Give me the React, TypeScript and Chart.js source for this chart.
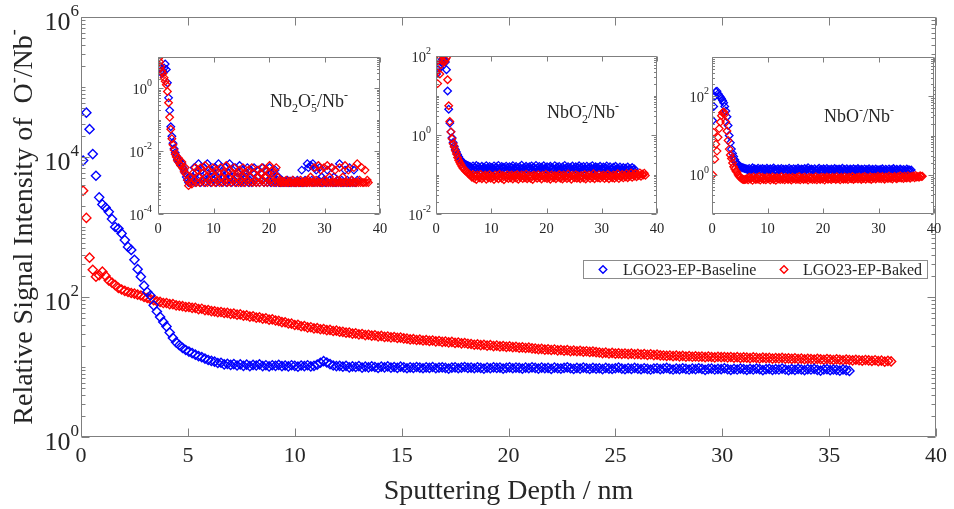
import React, { useEffect, useRef } from 'react';
import { Chart, registerables } from 'chart.js';

Chart.register(...registerables);

const FONT = '"Liberation Serif", "Times New Roman", Times, serif';
const BLUE = '#0000ff';
const RED = '#ff0000';
const AXIS_COLOR = '#7f7f7f';
const TEXT_COLOR = '#262626';

const seriesNames = ['LGO23-EP-Baseline', 'LGO23-EP-Baked'];

// ---------- main panel: O-/Nb- ----------
const mainDepthStart = 0.1;
const mainDepthStep = 0.15;
const mainXTicks = [0, 5, 10, 15, 20, 25, 30, 35, 40];
const mainYExponents = [0, 2, 4, 6];

const mainBaseline = [
  8900, 43000, 25000, 11000, 5400, 2650, 2100, 1900, 1650, 1300, 1000, 950, 810, 650, 520, 470, 340, 250, 195, 145, 118,
  105, 76, 62, 52, 44, 38, 31, 26, 22.5, 20.5, 18.8, 17.5, 16.6, 15.8, 15.0, 14.3, 13.8, 13.2, 12.6, 12.2,
  11.9, 11.4, 11.5, 10.9, 11.1, 10.7, 11.0, 10.5, 10.9, 10.4, 10.8, 10.3, 10.7, 10.5, 10.9, 10.3, 10.6, 10.2, 10.6, 10.4,
  10.7, 10.3, 10.5, 10.2, 10.6, 10.4, 10.1, 10.5, 10.3, 10.6, 10.2, 10.4, 10.8, 11.5, 12.1, 11.6, 11.0, 10.5, 10.3, 10.4,
  10.1, 10.4, 9.9, 10.2, 10.0, 10.3, 9.8, 10.1, 9.9, 10.2, 10.0, 9.7, 10.1, 9.9, 10.2, 9.8, 10.0, 9.7, 10.1, 9.9,
  9.6, 9.9, 9.7, 10.0, 9.8, 9.6, 9.9, 9.7, 10.0, 9.6, 9.8, 9.9, 9.7, 9.5, 9.8, 9.9, 9.6, 9.8, 10.0, 9.7,
  9.8, 9.6, 9.9, 9.7, 9.5, 9.8, 9.6, 9.9, 9.7, 9.8, 9.5, 9.7, 9.9, 9.6, 9.8, 9.7, 9.5, 9.8, 9.6, 9.9,
  9.7, 9.5, 9.8, 9.6, 9.7, 9.4, 9.8, 9.6, 9.5, 9.7, 9.9, 9.6, 9.4, 9.7, 9.5, 9.8, 9.6, 9.4, 9.7, 9.5,
  9.6, 9.3, 9.7, 9.5, 9.4, 9.6, 9.8, 9.5, 9.3, 9.6, 9.4, 9.7, 9.5, 9.3, 9.6, 9.4, 9.2, 9.5, 9.6, 9.3,
  9.5, 9.7, 9.4, 9.2, 9.5, 9.3, 9.6, 9.4, 9.2, 9.5, 9.3, 9.6, 9.4, 9.1, 9.4, 9.5, 9.2, 9.4, 9.3, 9.6,
  9.3, 9.1, 9.4, 9.2, 9.5, 9.3, 9.1, 9.4, 9.2, 9.5, 9.3, 9.0, 9.3, 9.4, 9.1, 9.3, 9.2, 9.5, 9.2, 9.0,
  9.3, 9.1, 9.4, 9.2, 9.0, 9.3, 9.2, 9.4, 9.1, 8.9, 9.2, 9.3, 9.0, 9.2, 9.1, 8.9, 9.2, 9.0, 8.8,
];

const mainBaked = [
  3300, 1350, 365, 245, 195, 205, 230, 200, 172, 160, 148, 135, 128, 122, 118, 114, 112, 108, 105, 100, 97,
  93, 90, 87, 85, 82, 82, 79, 79, 76, 75, 74, 72, 72, 70, 70, 67, 68, 65, 65, 63,
  62.5, 60.8, 61.0, 59.2, 59.4, 57.5, 58.0, 56.0, 56.3, 54.2, 54.6, 52.5, 52.9, 50.8, 51.3, 49.2, 49.6, 47.5, 48.0, 46.2,
  45.5, 43.8, 43.6, 41.8, 41.6, 39.8, 40.0, 38.2, 38.4, 36.8, 37.0, 35.6, 35.9, 34.6, 34.8, 33.6, 33.9, 32.7, 33.0, 32.0,
  31.8, 30.9, 31.0, 30.0, 30.3, 29.2, 29.6, 28.6, 28.9, 28.0, 28.3, 27.4, 27.8, 26.9, 27.2, 26.5, 26.8, 26.0, 26.3, 25.6,
  25.4, 24.8, 25.0, 24.3, 24.6, 23.9, 24.2, 23.6, 23.9, 23.2, 23.5, 22.8, 23.1, 22.5, 22.8, 22.1, 22.4, 21.8, 22.0, 21.5,
  21.3, 20.8, 21.0, 20.5, 20.8, 20.2, 20.5, 19.9, 20.2, 19.7, 19.9, 19.4, 19.7, 19.2, 19.4, 18.9, 19.1, 18.7, 18.9, 18.5,
  18.3, 18.0, 18.2, 17.7, 17.9, 17.5, 17.8, 17.3, 17.5, 17.1, 17.4, 16.9, 17.1, 16.8, 17.0, 16.6, 16.8, 16.4, 16.6, 16.3,
  16.1, 15.8, 16.0, 15.6, 15.9, 15.5, 15.7, 15.4, 15.6, 15.3, 15.5, 15.2, 15.4, 15.1, 15.3, 14.9, 15.2, 14.8, 15.0, 14.7,
  14.6, 14.4, 14.6, 14.3, 14.5, 14.2, 14.4, 14.1, 14.3, 14.0, 14.2, 14.0, 14.1, 13.8, 14.1, 13.9, 13.7, 14.0, 13.8, 13.9,
  13.7, 13.9, 13.6, 13.8, 13.5, 13.7, 13.6, 13.4, 13.7, 13.5, 13.3, 13.6, 13.4, 13.5, 13.2, 13.4, 13.3, 13.5, 13.2, 13.3,
  13.1, 13.3, 13.0, 13.2, 12.9, 13.1, 13.0, 12.8, 13.1, 12.9, 12.7, 13.0, 12.8, 12.6, 12.9, 12.7, 12.5, 12.8, 12.6, 12.4,
  12.7, 12.5, 12.3, 12.6, 12.4, 12.2, 12.5, 12.1, 12.3, 11.9, 12.2, 12.0,
];

// ---------- insets ----------
const insetDepthStart = 0.1;
const insetDepthStep = 0.2;
const insetXTicks = [0, 10, 20, 30, 40];
const nb2o5YExponents = [-4, -2, 0];
const nbo2YExponents = [-2, 0, 2];
const nboYExponents = [0, 2];

const nb2o5Baseline = [
  5, 4, 3.5, 3, 3.5, 4.5, 6, 4, 1.5, 0.5, 0.2, 0.06, 0.03, 0.018, 0.012, 0.009, 0.007, 0.0055, 0.0045, 0.005, 0.0035,
  0.004, 0.003, 0.0025, 0.002, 0.0015, 0.0012, 0.001, 0.0015, 0.001, 0.0012,
  0.0015, 0.003, 0.001, 0.002, 0.0012, 0.004, 0.0015, 0.001, 0.0025, 0.0012, 0.003, 0.001, 0.002, 0.004, 0.0012, 0.0015, 0.001, 0.0025, 0.002, 0.0012,
  0.003, 0.001, 0.0015, 0.004, 0.0012, 0.002, 0.001, 0.0025, 0.0015, 0.003, 0.001, 0.0012, 0.002, 0.004, 0.0015, 0.001, 0.0025, 0.0012, 0.003, 0.001,
  0.0015, 0.002, 0.0035, 0.001, 0.0012, 0.0025, 0.001, 0.002, 0.0015, 0.003, 0.001, 0.0012, 0.0025, 0.001, 0.002, 0.003, 0.0012, 0.001, 0.0015, 0.0025,
  0.001, 0.002, 0.0012, 0.003, 0.001, 0.0015, 0.0025, 0.001, 0.0012, 0.003, 0.001, 0.002, 0.0015, 0.001, 0.0025, 0.001, 0.0012, 0.0015, 0.001, 0.001,
  0.0012, 0.001, 0.001, 0.0011, 0.001, 0.0012, 0.001, 0.001, 0.0011, 0.001, 0.0012, 0.001, 0.001, 0.001, 0.0012, 0.001, 0.0011, 0.001, 0.0025, 0.001,
  0.001, 0.0012, 0.001, 0.004, 0.003, 0.001, 0.0035, 0.0012, 0.004, 0.001, 0.003, 0.0025, 0.001, 0.0012, 0.003, 0.001, 0.0015, 0.001, 0.0012, 0.001,
  0.001, 0.0025, 0.001, 0.0012, 0.001, 0.003, 0.001, 0.0015, 0.001, 0.001, 0.0012, 0.001, 0.004, 0.001, 0.0012, 0.001, 0.001, 0.0025, 0.001, 0.0012,
  0.001, 0.003, 0.001, 0.0012, 0.001, 0.0025, 0.001, 0.001, 0.0012,
];

const nb2o5Baked = [
  9, 7, 5, 3.6, 3, 2.2, 1.7, 1.3, 0.8, 0.35, 0.12, 0.05, 0.025, 0.016, 0.011, 0.008, 0.0065, 0.005, 0.006, 0.004, 0.0035,
  0.0045, 0.0028, 0.0022, 0.003, 0.0018, 0.0012, 0.0008, 0.001, 0.0015, 0.0009,
  0.002, 0.0012, 0.003, 0.001, 0.0025, 0.0015, 0.001, 0.003, 0.0012, 0.002, 0.001, 0.0035, 0.0015, 0.001, 0.0025, 0.0012, 0.002, 0.001, 0.003, 0.0015,
  0.001, 0.0025, 0.0012, 0.002, 0.001, 0.003, 0.0015, 0.001, 0.002, 0.0012, 0.0035, 0.001, 0.0015, 0.0025, 0.001, 0.002, 0.0012, 0.003, 0.001, 0.0015,
  0.002, 0.001, 0.0025, 0.0012, 0.001, 0.003, 0.0015, 0.001, 0.002, 0.0012, 0.0025, 0.001, 0.0015, 0.003, 0.001, 0.002, 0.0012, 0.001, 0.0025, 0.0015,
  0.001, 0.002, 0.003, 0.0012, 0.001, 0.0025, 0.0015, 0.001, 0.002, 0.0035, 0.0012, 0.001, 0.0025, 0.002, 0.001, 0.003, 0.0015, 0.001, 0.0012, 0.001,
  0.001, 0.0011, 0.001, 0.001, 0.0012, 0.001, 0.001, 0.0011, 0.001, 0.001, 0.0012, 0.001, 0.001, 0.001, 0.0011, 0.001, 0.001, 0.0012, 0.001, 0.001,
  0.001, 0.0011, 0.001, 0.001, 0.0012, 0.001, 0.0015, 0.001, 0.001, 0.003, 0.001, 0.0012, 0.001, 0.0035, 0.001, 0.0025, 0.001, 0.001, 0.003, 0.0012,
  0.001, 0.0035, 0.001, 0.0015, 0.001, 0.003, 0.001, 0.001, 0.0025, 0.001, 0.0012, 0.001, 0.003, 0.001, 0.001, 0.0015, 0.001, 0.0035, 0.001, 0.001,
  0.0025, 0.001, 0.001, 0.0012, 0.001, 0.003, 0.001, 0.001, 0.004, 0.001, 0.0012, 0.001, 0.003, 0.001, 0.001, 0.0025, 0.001, 0.0012, 0.001,
];

const nbo2Baseline = [
  35, 45, 55, 50, 70, 80, 85, 80, 70, 45, 13, 4.5, 2, 1.2, 0.85, 0.65, 0.52, 0.43, 0.37, 0.32, 0.28,
  0.25, 0.23, 0.21, 0.2, 0.19, 0.18, 0.175, 0.17, 0.165, 0.16,
  0.155, 0.14, 0.165, 0.13, 0.15, 0.17, 0.135, 0.158, 0.145, 0.128, 0.162, 0.14, 0.152, 0.132, 0.168, 0.146, 0.138, 0.16, 0.13, 0.15,
  0.142, 0.165, 0.128, 0.155, 0.138, 0.17, 0.145, 0.132, 0.16, 0.14, 0.152, 0.126, 0.163, 0.147, 0.135, 0.158, 0.13, 0.15, 0.168, 0.14,
  0.133, 0.16, 0.145, 0.128, 0.155, 0.142, 0.172, 0.136, 0.15, 0.13, 0.162, 0.144, 0.127, 0.158, 0.14, 0.165, 0.132, 0.152, 0.138, 0.17,
  0.145, 0.128, 0.16, 0.14, 0.153, 0.13, 0.166, 0.142, 0.135, 0.158, 0.127, 0.15, 0.162, 0.138, 0.146, 0.13, 0.168, 0.14, 0.155, 0.133,
  0.16, 0.142, 0.128, 0.155, 0.137, 0.17, 0.145, 0.131, 0.158, 0.14, 0.15, 0.126, 0.164, 0.143, 0.135, 0.157, 0.13, 0.148, 0.166, 0.138,
  0.152, 0.128, 0.16, 0.14, 0.134, 0.163, 0.145, 0.127, 0.155, 0.138, 0.168, 0.142, 0.13, 0.157, 0.136, 0.15, 0.125, 0.162, 0.141, 0.133,
  0.155, 0.13, 0.148, 0.165, 0.137, 0.125, 0.158, 0.14, 0.132, 0.152, 0.128, 0.162, 0.138, 0.145, 0.122, 0.155, 0.135, 0.13, 0.15, 0.126,
  0.145, 0.128, 0.155, 0.132, 0.14, 0.12, 0.15, 0.13, 0.138,
];

const nbo2Baked = [
  40, 20, 80, 35, 60, 75, 105, 70, 80, 90, 25, 5.5, 2.2, 1.2, 0.8, 0.6, 0.5, 0.4, 0.33, 0.27, 0.23,
  0.2, 0.18, 0.16, 0.145, 0.135, 0.125, 0.12, 0.11, 0.105, 0.1,
  0.095, 0.085, 0.1, 0.08, 0.092, 0.075, 0.098, 0.088, 0.082, 0.1, 0.078, 0.09, 0.086, 0.097, 0.076, 0.092, 0.083, 0.1, 0.08, 0.09,
  0.087, 0.075, 0.098, 0.084, 0.093, 0.078, 0.101, 0.086, 0.08, 0.095, 0.074, 0.09, 0.085, 0.099, 0.079, 0.092, 0.083, 0.097, 0.077, 0.089,
  0.094, 0.081, 0.1, 0.076, 0.09, 0.085, 0.098, 0.079, 0.093, 0.083, 0.102, 0.078, 0.088, 0.095, 0.08, 0.091, 0.075, 0.097, 0.086, 0.092,
  0.08, 0.099, 0.084, 0.09, 0.077, 0.096, 0.087, 0.082, 0.101, 0.079, 0.093, 0.085, 0.076, 0.098, 0.088, 0.083, 0.095, 0.078, 0.091, 0.086,
  0.1, 0.08, 0.092, 0.077, 0.097, 0.085, 0.089, 0.079, 0.103, 0.084, 0.09, 0.076, 0.096, 0.087, 0.082, 0.099, 0.08, 0.093, 0.085, 0.078,
  0.095, 0.088, 0.081, 0.1, 0.077, 0.092, 0.086, 0.098, 0.079, 0.09, 0.084, 0.104, 0.078, 0.094, 0.087, 0.082, 0.099, 0.08, 0.092, 0.086,
  0.097, 0.079, 0.09, 0.085, 0.101, 0.078, 0.093, 0.087, 0.083, 0.098, 0.08, 0.094, 0.086, 0.104, 0.079, 0.091, 0.088, 0.1, 0.082, 0.095,
  0.087, 0.105, 0.083, 0.096, 0.09, 0.11, 0.085, 0.099, 0.092, 0.106, 0.088, 0.101, 0.094, 0.11, 0.09, 0.103, 0.097, 0.108, 0.095,
];

const nboBaseline = [
  24, 55, 100, 130, 135, 115, 105, 95, 88, 78, 68, 55, 42, 30, 18, 10, 6.5, 4.5, 3.5, 2.9, 2.4,
  2.1, 1.9, 1.8, 1.7, 1.6, 1.55, 1.5, 1.48, 1.45, 1.42,
  1.4, 1.3, 1.45, 1.28, 1.38, 1.5, 1.32, 1.42, 1.27, 1.36, 1.47, 1.3, 1.4, 1.25, 1.44, 1.33, 1.38, 1.29, 1.46, 1.35,
  1.3, 1.42, 1.27, 1.39, 1.48, 1.31, 1.36, 1.26, 1.43, 1.34, 1.29, 1.45, 1.32, 1.38, 1.25, 1.41, 1.35, 1.28, 1.47, 1.33,
  1.37, 1.27, 1.43, 1.31, 1.39, 1.26, 1.46, 1.34, 1.29, 1.41, 1.36, 1.25, 1.44, 1.3, 1.38, 1.52, 1.32, 1.28, 1.4, 1.35,
  1.29, 1.43, 1.33, 1.26, 1.39, 1.47, 1.31, 1.36, 1.27, 1.42, 1.34, 1.28, 1.45, 1.3, 1.37, 1.25, 1.4, 1.33, 1.29, 1.44,
  1.32, 1.38, 1.26, 1.41, 1.35, 1.29, 1.46, 1.31, 1.37, 1.27, 1.43, 1.33, 1.28, 1.4, 1.34, 1.26, 1.42, 1.3, 1.36, 1.28,
  1.44, 1.32, 1.27, 1.39, 1.34, 1.25, 1.41, 1.3, 1.36, 1.28, 1.43, 1.31, 1.26, 1.38, 1.33, 1.29, 1.4, 1.27, 1.35, 1.3,
  1.37, 1.26, 1.42, 1.31, 1.28, 1.39, 1.33, 1.25, 1.41, 1.3, 1.35, 1.27, 1.44, 1.32, 1.28, 1.38, 1.3, 1.26, 1.4, 1.33,
  1.29, 1.37, 1.31, 1.26, 1.4, 1.3, 1.34, 1.27, 1.32,
];

const nboBaked = [
  1.0, 12, 2.5, 6, 4, 9, 15, 22, 32, 38, 40, 35, 22, 13, 7.5, 4.5, 3.2, 2.6, 2.0, 1.6, 1.4,
  1.25, 1.15, 1.0, 0.92, 0.85, 0.8, 0.77, 0.76, 0.75, 0.77,
  0.8, 0.74, 0.86, 0.78, 0.83, 0.72, 0.88, 0.79, 0.75, 0.84, 0.77, 0.9, 0.73, 0.81, 0.86, 0.76, 0.82, 0.74, 0.87, 0.79,
  0.84, 0.73, 0.8, 0.88, 0.76, 0.83, 0.72, 0.85, 0.78, 0.81, 0.75, 0.89, 0.77, 0.82, 0.74, 0.86, 0.8, 0.76, 0.84, 0.78,
  0.73, 0.87, 0.79, 0.82, 0.75, 0.85, 0.77, 0.9, 0.74, 0.81, 0.83, 0.76, 0.88, 0.78, 0.8, 0.73, 0.86, 0.79, 0.84, 0.75,
  0.82, 0.77, 0.89, 0.74, 0.83, 0.8, 0.76, 0.87, 0.78, 0.85, 0.73, 0.81, 0.88, 0.77, 0.84, 0.79, 0.75, 0.86, 0.8, 0.83,
  0.76, 0.89, 0.79, 0.82, 0.74, 0.86, 0.8, 0.77, 0.88, 0.78, 0.84, 0.75, 0.87, 0.81, 0.79, 0.9, 0.76, 0.83, 0.8, 0.85,
  0.78, 0.88, 0.81, 0.76, 0.86, 0.8, 0.91, 0.77, 0.84, 0.82, 0.79, 0.89, 0.76, 0.85, 0.81, 0.87, 0.78, 0.83, 0.92, 0.8,
  0.86, 0.79, 0.9, 0.82, 0.77, 0.88, 0.84, 0.8, 0.93, 0.81, 0.87, 0.78, 0.85, 0.91, 0.83, 0.79, 0.89, 0.84, 0.94, 0.82,
  0.88, 0.8, 0.92, 0.85, 0.83, 0.95, 0.86, 0.81, 0.9, 0.87, 0.93, 0.84, 0.96, 0.88, 0.91, 0.86, 0.94, 0.9, 0.92,
];

// ---------- helpers ----------
type Seg = { t: string; sub?: string; sup?: string };

function toPoints(values: number[], start: number, step: number) {
  return values.map((v, i) => ({ x: +(start + i * step).toFixed(3), y: v }));
}

function series(label: string, values: number[], start: number, step: number, color: string, radius: number, width: number, order: number) {
  return {
    label,
    data: toPoints(values, start, step),
    showLine: false,
    pointStyle: 'rectRot',
    pointRadius: radius,
    pointBorderWidth: width,
    borderWidth: width,
    borderColor: color,
    pointBorderColor: color,
    backgroundColor: 'rgba(0,0,0,0)',
    pointBackgroundColor: 'rgba(0,0,0,0)',
    order,
  };
}

function drawRich(ctx: CanvasRenderingContext2D, segs: Seg[], x: number, y: number, size: number, align: 'left' | 'center') {
  const small = Math.round(size * 0.65);
  let total = 0;
  const widths = segs.map((s) => {
    ctx.font = `${size}px ${FONT}`;
    const wt = s.t ? ctx.measureText(s.t).width : 0;
    ctx.font = `${small}px ${FONT}`;
    const ws = Math.max(s.sub ? ctx.measureText(s.sub).width : 0, s.sup ? ctx.measureText(s.sup).width : 0);
    total += wt + ws;
    return { wt, ws };
  });
  let cx = align === 'center' ? x - total / 2 : x;
  ctx.textAlign = 'left';
  ctx.textBaseline = 'alphabetic';
  segs.forEach((s, i) => {
    ctx.font = `${size}px ${FONT}`;
    if (s.t) ctx.fillText(s.t, cx, y);
    cx += widths[i].wt;
    ctx.font = `${small}px ${FONT}`;
    if (s.sup) ctx.fillText(s.sup, cx, y - size * 0.45);
    if (s.sub) ctx.fillText(s.sub, cx, y + size * 0.28);
    cx += widths[i].ws;
  });
}

function drawPow10(ctx: CanvasRenderingContext2D, exp: number, xRight: number, yTick: number, size: number, supSize: number, dy: number) {
  const expStr = String(exp);
  ctx.font = `${size}px ${FONT}`;
  const wb = ctx.measureText('10').width;
  ctx.font = `${supSize}px ${FONT}`;
  const we = ctx.measureText(expStr).width;
  const x0 = xRight - wb - we;
  const baseY = yTick + size * 0.38 + dy;
  ctx.textAlign = 'left';
  ctx.textBaseline = 'alphabetic';
  ctx.font = `${size}px ${FONT}`;
  ctx.fillText('10', x0, baseY);
  ctx.font = `${supSize}px ${FONT}`;
  ctx.fillText(expStr, x0 + wb, baseY - size * 0.52);
}

function drawDiamond(ctx: CanvasRenderingContext2D, x: number, y: number, r: number, color: string) {
  ctx.beginPath();
  ctx.moveTo(x - r, y);
  ctx.lineTo(x, y - r);
  ctx.lineTo(x + r, y);
  ctx.lineTo(x, y + r);
  ctx.closePath();
  ctx.strokeStyle = color;
  ctx.lineWidth = 1.4;
  ctx.stroke();
}

interface AxesSpec {
  xTicks: number[];
  yExps: number[];
  majorLen: number;
  minorLen: number;
  xLabelSize: number;
  xLabelOffset: number;
  yLabelSize: number;
  yLabelSup: number;
  yLabelGap: number;
  yLabelDy: number;
  extra?: (ctx: CanvasRenderingContext2D, a: any) => void;
}

function makeAxesPlugin(spec: AxesSpec) {
  return {
    id: 'matlabAxes',
    beforeDatasetsDraw(chart: any) {
      const { ctx, chartArea: a } = chart;
      ctx.save();
      ctx.fillStyle = '#ffffff';
      ctx.fillRect(a.left, a.top, a.right - a.left, a.bottom - a.top);
      ctx.restore();
    },
    afterDatasetsDraw(chart: any) {
      const { ctx, chartArea: a, scales } = chart;
      const xs = scales.x;
      const ys = scales.y;
      const L = Math.round(a.left) + 0.5;
      const R = Math.round(a.right) - 0.5;
      const T = Math.round(a.top) + 0.5;
      const B = Math.round(a.bottom) - 0.5;
      ctx.save();
      ctx.strokeStyle = AXIS_COLOR;
      ctx.lineWidth = 1;
      ctx.beginPath();
      ctx.rect(L, T, R - L, B - T);
      spec.xTicks.forEach((v) => {
        const px = Math.round(xs.getPixelForValue(v)) + 0.5;
        ctx.moveTo(px, B);
        ctx.lineTo(px, B - spec.majorLen);
        ctx.moveTo(px, T);
        ctx.lineTo(px, T + spec.majorLen);
      });
      const minExp = Math.floor(Math.log10(ys.min) + 1e-9);
      const maxExp = Math.ceil(Math.log10(ys.max) - 1e-9);
      for (let d = minExp; d <= maxExp; d++) {
        for (let k = 1; k <= 9; k++) {
          const v = k * Math.pow(10, d);
          if (v < ys.min * 0.999 || v > ys.max * 1.001) continue;
          const major = k === 1 && spec.yExps.includes(d);
          const len = major ? spec.majorLen : spec.minorLen;
          const py = Math.round(ys.getPixelForValue(v)) + 0.5;
          ctx.moveTo(L, py);
          ctx.lineTo(L + len, py);
          ctx.moveTo(R, py);
          ctx.lineTo(R - len, py);
        }
      }
      ctx.stroke();

      ctx.fillStyle = TEXT_COLOR;
      ctx.font = `${spec.xLabelSize}px ${FONT}`;
      ctx.textAlign = 'center';
      ctx.textBaseline = 'middle';
      spec.xTicks.forEach((v) => {
        ctx.fillText(String(v), xs.getPixelForValue(v), a.bottom + spec.xLabelOffset);
      });
      spec.yExps.forEach((e) => {
        drawPow10(ctx, e, a.left - spec.yLabelGap, ys.getPixelForValue(Math.pow(10, e)), spec.yLabelSize, spec.yLabelSup, spec.yLabelDy);
      });
      if (spec.extra) {
        ctx.fillStyle = TEXT_COLOR;
        spec.extra(ctx, a);
      }
      ctx.restore();
    },
  };
}

function scatterConfig(datasets: any[], yMin: number, yMax: number, padding: any, spec: AxesSpec) {
  return {
    type: 'scatter',
    data: { datasets },
    options: {
      responsive: false,
      maintainAspectRatio: false,
      animation: false,
      devicePixelRatio: 1,
      events: [],
      layout: { padding },
      scales: {
        x: { type: 'linear', min: 0, max: 40, display: false },
        y: { type: 'logarithmic', min: yMin, max: yMax, display: false },
      },
      plugins: { legend: { display: false }, tooltip: { enabled: false } },
    },
    plugins: [makeAxesPlugin(spec)],
  };
}

const mainConfig = () =>
  scatterConfig(
    [
      series(seriesNames[0], mainBaseline, mainDepthStart, mainDepthStep, BLUE, 4.6, 1.4, 0),
      series(seriesNames[1], mainBaked, mainDepthStart, mainDepthStep, RED, 4.6, 1.4, 1),
    ],
    1,
    1e6,
    { left: 81, right: 18, top: 17, bottom: 72 },
    {
      xTicks: mainXTicks,
      yExps: mainYExponents,
      majorLen: 8,
      minorLen: 4,
      xLabelSize: 22,
      xLabelOffset: 19,
      yLabelSize: 26,
      yLabelSup: 17,
      yLabelGap: 2,
      yLabelDy: 3,
      extra: (ctx, a) => {
        // x title
        ctx.font = `28px ${FONT}`;
        ctx.textAlign = 'center';
        ctx.textBaseline = 'alphabetic';
        ctx.fillText('Sputtering Depth / nm', (a.left + a.right) / 2, 499);
        // y title (rotated)
        ctx.save();
        ctx.translate(32, (a.top + a.bottom) / 2);
        ctx.rotate(-Math.PI / 2);
        drawRich(ctx, [{ t: 'Relative Signal Intensity of  O', sup: '-' }, { t: '/Nb', sup: '-' }], 0, 0, 28, 'center');
        ctx.restore();
        // legend
        ctx.fillStyle = '#ffffff';
        ctx.fillRect(583, 260, 344, 18);
        ctx.strokeStyle = '#8c8c8c';
        ctx.lineWidth = 1;
        ctx.strokeRect(583.5, 260.5, 344, 18);
        drawDiamond(ctx, 603, 269.5, 3.8, BLUE);
        drawDiamond(ctx, 784, 269.5, 3.8, RED);
        ctx.fillStyle = TEXT_COLOR;
        ctx.font = `16px ${FONT}`;
        ctx.textAlign = 'left';
        ctx.textBaseline = 'alphabetic';
        ctx.fillText(seriesNames[0], 623, 275);
        ctx.fillText(seriesNames[1], 803, 275);
      },
    }
  );

function insetSpec(yExps: number[], gap: number, title: Seg[], tx: number, ty: number): AxesSpec {
  return {
    xTicks: insetXTicks,
    yExps,
    majorLen: 5,
    minorLen: 2.5,
    xLabelSize: 14.5,
    xLabelOffset: 15,
    yLabelSize: 14.5,
    yLabelSup: 10,
    yLabelGap: gap,
    yLabelDy: 0,
    extra: (ctx, a) => {
      ctx.fillStyle = TEXT_COLOR;
      drawRich(ctx, title, a.left + tx, a.top + ty, 18, 'left');
    },
  };
}

const INSET_R = 3.8;
const INSET_W = 1.3;

const inset1Config = () =>
  scatterConfig(
    [
      series(seriesNames[0], nb2o5Baseline, insetDepthStart, insetDepthStep, BLUE, INSET_R, INSET_W, 1),
      series(seriesNames[1], nb2o5Baked, insetDepthStart, insetDepthStep, RED, INSET_R, INSET_W, 0),
    ],
    1e-4,
    10,
    { left: 48, right: 20, top: 12, bottom: 36 },
    insetSpec(nb2o5YExponents, 6, [{ t: 'Nb', sub: '2' }, { t: 'O', sub: '5', sup: '-' }, { t: '/Nb', sup: '-' }], 112, 50)
  );

const inset2Config = () =>
  scatterConfig(
    [
      series(seriesNames[0], nbo2Baseline, insetDepthStart, insetDepthStep, BLUE, INSET_R, INSET_W, 1),
      series(seriesNames[1], nbo2Baked, insetDepthStart, insetDepthStep, RED, INSET_R, INSET_W, 0),
    ],
    1e-2,
    1e2,
    { left: 46, right: 18, top: 11, bottom: 36 },
    insetSpec(nbo2YExponents, 5, [{ t: 'NbO', sub: '2', sup: '-' }, { t: '/Nb', sup: '-' }], 111, 62)
  );

const inset3Config = () =>
  scatterConfig(
    [
      series(seriesNames[0], nboBaseline, insetDepthStart, insetDepthStep, BLUE, INSET_R, INSET_W, 1),
      series(seriesNames[1], nboBaked, insetDepthStart, insetDepthStep, RED, INSET_R, INSET_W, 0),
    ],
    1e-1,
    1e3,
    { left: 40, right: 20, top: 12, bottom: 36 },
    insetSpec(nboYExponents, 3, [{ t: 'NbO', sup: '-' }, { t: '/Nb', sup: '-' }], 112, 65)
  );

function ChartBox(props: { left: number; top: number; width: number; height: number; make: () => any }) {
  const ref = useRef<HTMLCanvasElement>(null);
  useEffect(() => {
    const chart = new Chart(ref.current as HTMLCanvasElement, props.make());
    return () => chart.destroy();
  }, []);
  return (
    <canvas
      ref={ref}
      width={props.width}
      height={props.height}
      style={{ position: 'absolute', left: props.left, top: props.top, width: props.width, height: props.height }}
    />
  );
}

export default function App() {
  return (
    <div style={{ position: 'fixed', left: 0, top: 0, width: 954, height: 509, background: '#ffffff', overflow: 'hidden' }}>
      <ChartBox left={0} top={0} width={954} height={509} make={mainConfig} />
      <ChartBox left={110} top={45} width={290} height={205} make={inset1Config} />
      <ChartBox left={390} top={45} width={285} height={205} make={inset2Config} />
      <ChartBox left={672} top={45} width={282} height={205} make={inset3Config} />
    </div>
  );
}
